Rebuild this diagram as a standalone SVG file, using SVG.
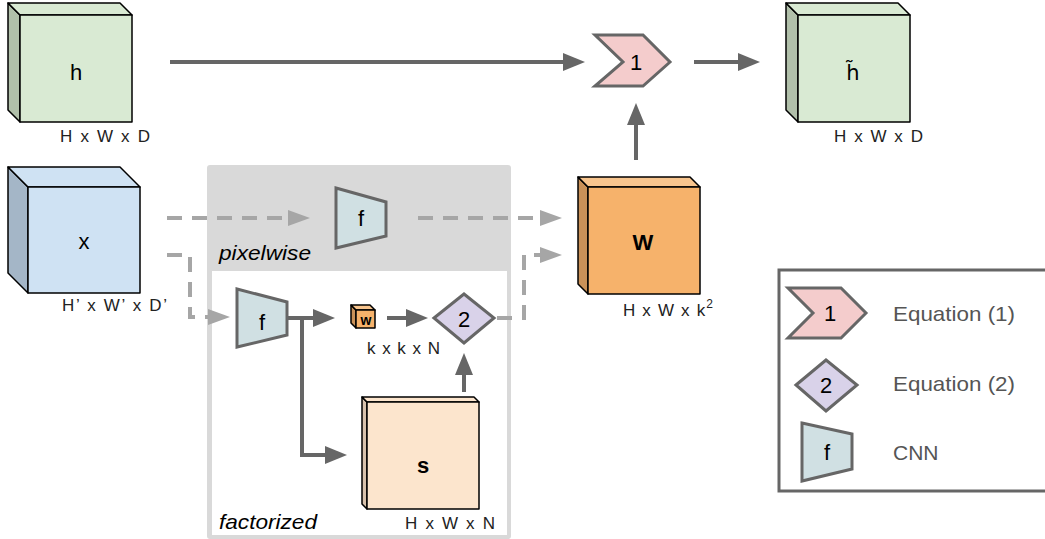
<svg xmlns="http://www.w3.org/2000/svg" width="1045" height="539" viewBox="0 0 1045 539">
<defs>
<style>
.t{font-family:"Liberation Sans",Arial,sans-serif;fill:#000;}
.lbl{font-size:22px;text-anchor:middle;}
.dim{font-size:17px;fill:#222;}
.it{font-size:21px;font-style:italic;}
.leg{font-size:21px;fill:#555;}
.cs{stroke:#000;stroke-width:1.5;stroke-linejoin:round;}
.solid{fill:none;stroke:#666;stroke-width:4;marker-end:url(#ah);}
.dash{fill:none;stroke:#a6a6a6;stroke-width:4;stroke-dasharray:15 10;marker-end:url(#ahd);}
.eq1{fill:#f4cccc;stroke:#666;stroke-width:3;stroke-linejoin:miter;}
.eq2{fill:#d9d2e9;stroke:#666;stroke-width:3;}
.cnn{fill:#d0e0e3;stroke:#666;stroke-width:3;}
</style>
<marker id="ah" markerUnits="userSpaceOnUse" markerWidth="22" markerHeight="18" refX="0" refY="9" orient="auto">
<path d="M0,0 L22,9 L0,18 z" fill="#666"/>
</marker>
<marker id="ahd" markerUnits="userSpaceOnUse" markerWidth="22" markerHeight="16" refX="0" refY="8" orient="auto">
<path d="M0,0 L22,8 L0,16 z" fill="#a6a6a6"/>
</marker>
</defs>
<rect width="1045" height="539" fill="#fff"/>

<!-- group boxes -->
<g id="pixelwise-box">
<rect x="207" y="165" width="304" height="374" rx="3" fill="#d9d9d9"/>
<rect x="212" y="271" width="295" height="264" fill="#fff"/>
<text class="t it" x="219" y="260" textLength="92" lengthAdjust="spacingAndGlyphs">pixelwise</text>
<text class="t it" x="219" y="529" textLength="98" lengthAdjust="spacingAndGlyphs">factorized</text>
</g>

<!-- connectors -->
<g id="connectors">
<path class="solid" d="M170,62 H563"/>
<path class="solid" d="M694,62 H738"/>
<path class="solid" d="M636,160 V125"/>
<path class="dash" d="M167,218 H288"/>
<path class="dash" d="M418,218 H540"/>
<path class="dash" d="M167,255 H190 V317 H208"/>
<path class="solid" d="M287,318 H313"/>
<path class="solid" d="M302,318 V455 H325"/>
<path class="solid" d="M387,318 H406"/>
<path class="solid" d="M464,392 V375"/>
<path class="dash" d="M497,318 H524 V255 H540"/>
</g>

<g id="h">
<polygon class="cs" points="8,3 20,15 20,122 8,110" fill="#b1c0aa"/>
<polygon class="cs" points="8,3 120,3 132,15 20,15" fill="#d9ead3"/>
<rect class="cs" x="20" y="15" width="112" height="107" fill="#d9ead3"/>
<text class="t lbl" x="76" y="80">h</text>
<text class="t dim" x="60" y="142" textLength="90" lengthAdjust="spacing">H x W x D</text>
</g>

<g id="eq1">
<polygon class="eq1" points="595,35 643,35 670,62 643,86 595,86 623,62"/>
<text class="t lbl" x="636" y="70">1</text>
</g>

<g id="h-tilde">
<polygon class="cs" points="786,3 798,15 798,122 786,110" fill="#b1c0aa"/>
<polygon class="cs" points="786,3 898,3 910,15 798,15" fill="#d9ead3"/>
<rect class="cs" x="798" y="15" width="112" height="107" fill="#d9ead3"/>
<text x="853" y="80" font-family="'DejaVu Sans',sans-serif" font-size="21" text-anchor="middle" fill="#000">h̃</text>
<text class="t dim" x="834" y="142" textLength="89" lengthAdjust="spacing">H x W x D</text>
</g>

<g id="x">
<polygon class="cs" points="8,167 28,187 28,293 8,273" fill="#a4b6c7"/>
<polygon class="cs" points="8,167 120,167 140,187 28,187" fill="#cfe2f3"/>
<rect class="cs" x="28" y="187" width="112" height="106" fill="#cfe2f3"/>
<text class="t lbl" x="84" y="249">x</text>
<text class="t dim" x="62" y="311" textLength="105" lengthAdjust="spacing">H’ x W’ x D’</text>
</g>

<g id="f-pixelwise">
<polygon class="cnn" points="336,188 386,202 386,236 336,248"/>
<text class="t lbl" x="361" y="226">f</text>
</g>

<g id="f-factorized">
<polygon class="cnn" points="237,289 287,302 287,335 237,347"/>
<text class="t lbl" x="262" y="330">f</text>
</g>

<g id="w-small">
<polygon class="cs" points="351,305 356,310 356,328 351,323" fill="#c99158"/>
<polygon class="cs" points="351,305 370,305 375,310 356,310" fill="#f8c58e"/>
<rect class="cs" x="356" y="310" width="19" height="18" fill="#f6b26b"/>
<text class="t" x="366" y="325" font-size="14" font-weight="bold" text-anchor="middle">w</text>
<text class="t dim" x="367" y="354" textLength="73" lengthAdjust="spacing">k x k x N</text>
</g>

<g id="eq2">
<polygon class="eq2" points="434,318 464,294 494,318 464,343"/>
<text class="t lbl" x="464" y="327">2</text>
</g>

<g id="s">
<polygon class="cs" points="362,397 367,402 367,509 362,504" fill="#d8c2ad"/>
<polygon class="cs" points="362,397 474,397 479,402 367,402" fill="#fce5cd"/>
<rect class="cs" x="367" y="402" width="112" height="107" fill="#fce5cd"/>
<text class="t lbl" x="423" y="473" font-size="24" font-weight="bold">s</text>
<text class="t dim" x="405" y="529" textLength="90" lengthAdjust="spacing">H x W x N</text>
</g>

<g id="W">
<polygon class="cs" points="578,177 588,187 588,294 578,284" fill="#c99158"/>
<polygon class="cs" points="578,177 690,177 700,187 588,187" fill="#f8c58e"/>
<rect class="cs" x="588" y="187" width="112" height="107" fill="#f6b26b"/>
<text class="t lbl" x="643" y="250" font-size="24" font-weight="bold">W</text>
<text class="t dim" x="623" y="316" textLength="90" lengthAdjust="spacing">H x W x k<tspan font-size="12" dy="-8">2</tspan></text>
</g>

<g id="legend">
<rect x="779" y="270" width="280" height="221" fill="#fff" stroke="#666" stroke-width="3"/>
<polygon class="eq1" points="788,288 841,288 866,313 841,338 788,338 813,313"/>
<text class="t lbl" x="830" y="321">1</text>
<text class="t leg" x="893" y="321" textLength="122" lengthAdjust="spacingAndGlyphs">Equation (1)</text>
<polygon class="eq2" points="796,385 826,360 857,385 826,411"/>
<text class="t lbl" x="826" y="393">2</text>
<text class="t leg" x="893" y="391" textLength="122" lengthAdjust="spacingAndGlyphs">Equation (2)</text>
<polygon class="cnn" points="802,423 852,434 852,469 802,481"/>
<text class="t lbl" x="827" y="460">f</text>
<text class="t leg" x="893" y="460">CNN</text>
</g>
</svg>
